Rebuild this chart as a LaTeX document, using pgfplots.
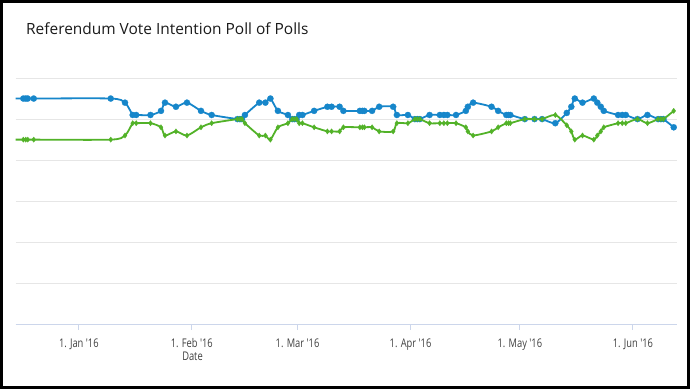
\documentclass[border=0pt]{standalone}
\usepackage{pgfplots}
\pgfplotsset{compat=1.18}
\usepackage{pgfplotstable}
\usepackage{fontspec}
\setmainfont{Open Sans}
\newfontfamily\narrowfont[FakeStretch=0.78]{Open Sans}
\definecolor{remainblue}{RGB}{22,134,202}
\definecolor{leavegreen}{RGB}{82,178,40}
\definecolor{gridgray}{HTML}{E6E6E6}
\definecolor{axisblue}{HTML}{CCD6EB}
\definecolor{labelgray}{HTML}{404040}
\definecolor{titlegray}{HTML}{1A1A1A}

\pgfplotstableread{
day remain leave
-18.5 55 45
-15.22 55 45
-14.56 55 45
-14.01 55 45
-12.37 55 45
8.75 55 45
12.67 54 46
14.78 51 49
15.74 51 49
19.66 51 49
22.54 52 48
23.64 54 46
26.65 53 47
29.67 54 46
33.51 52 48
36.44 51 49
43.51 50 50
44.20 50 50
44.75 50 50
45.57 51 49
49.49 54 46
51.19 54 46
52.56 55 45
54.62 52 48
57.36 51 49
58.54 50 50
59.14 50 50
59.75 50 50
60.46 51 49
61.34 51 49
64.55 52 48
68.19 53 47
69.34 53 47
71.54 53 47
72.58 52 48
77.10 52 48
77.79 52 48
78.34 52 48
80.45 52 48
82.40 53 47
86.23 53 47
87.25 51 49
90.27 51 49
92.19 50 50
92.87 50 50
93.56 50 50
96.22 51 49
99.04 51 49
100.14 51 49
101.10 51 49
103.48 51 49
106.17 52 48
106.72 53 47
108.17 54 46
113.22 53 47
115.03 52 48
117.27 51 49
117.88 51 49
118.37 51 49
122.35 50 50
125.01 50 50
127.09 50 50
130.71 49 51
133.86 51.5 48.5
135.10 53 47
136.06 55 45
138.17 54 46
141.27 55 45
142.23 54 46
143.19 53 47
144.01 52 48
147.93 51 49
149.08 51 49
150.04 51 49
153.25 50 50
155.99 51 49
158.90 50 50
159.69 50 50
160.38 50 50
163.20 48 52
}\polls

\begin{document}
\begin{tikzpicture}[x=1bp,y=1bp]
\useasboundingbox (0,0) rectangle (690,389);
\node[anchor=base west, inner sep=0pt, text=titlegray, font=\fontsize{15.5}{18}\selectfont] at (26,355) {Referendum Vote Intention Poll of Polls};
\begin{axis}[
  at={(15.5bp,64.5bp)}, anchor=south west,
  scale only axis, width=661.5bp, height=246.5bp,
  xmin=-17.37, xmax=164.1, ymin=0, ymax=60,
  axis x line=bottom, axis y line=left,
  x axis line style={-, color=axisblue, line width=1bp},
  y axis line style={draw=none},
  xtick={0,31,60,91,121,152},
  xticklabels={1. Jan '16,1. Feb '16,1. Mar '16,1. Apr '16,1. May '16,1. Jun '16},
  xtick align=outside,
  major tick length=5bp,
  xtick style={color=axisblue, line width=1bp},
  xticklabel style={anchor=base, yshift=-17.5bp, inner sep=0pt, text=labelgray, font=\narrowfont\fontsize{12}{14}\selectfont},
  ytick={0,10,20,30,40,50,60},
  yticklabels={},
  ytick style={draw=none},
  ymajorgrids,
  grid style={color=gridgray, line width=1bp},
  xlabel={Date},
  xlabel style={at={(axis description cs:0.2676,0)}, anchor=base, yshift=-36bp, inner sep=0pt, text=labelgray, font=\narrowfont\fontsize{12}{14}\selectfont},
  clip marker paths=true,
  enlargelimits=false,
]
\addplot[remainblue, line width=1.8bp, smooth, tension=0.45, mark=*, mark size=3.1bp, mark options={fill=remainblue, draw=remainblue, line width=0.2bp}] table[x=day, y=remain] {\polls};
\addplot[leavegreen, line width=1.8bp, smooth, tension=0.45, mark=diamond*, mark size=2.7bp, mark options={fill=leavegreen, draw=leavegreen, line width=0.2bp}] table[x=day, y=leave] {\polls};
\end{axis}
\draw[black, line width=2.6bp] (1.3,1.3) rectangle (688.7,387.7);
\end{tikzpicture}
\end{document}
